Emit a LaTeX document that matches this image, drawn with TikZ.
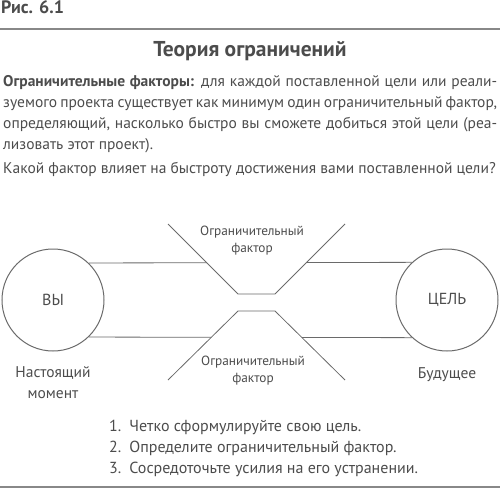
\documentclass[tikz,border=0pt]{standalone}
\usepackage{fontspec}
\setmainfont{PT Sans}
\usepackage{xcolor}
\definecolor{inkgray}{HTML}{4C4C4C}
\definecolor{linegray}{HTML}{6A6A6A}

\begin{document}
\begin{tikzpicture}[x=1pt, y=-1pt,
  every node/.style={text=inkgray, inner sep=0pt},
  body/.style={font=\fontsize{15.5}{21}\selectfont},
  small/.style={font=\fontsize{13.3}{16.5}\selectfont, align=center},
  wall/.style={draw=linegray, line width=0.8pt},
  ring/.style={circle, draw=linegray, line width=1pt, minimum size=102pt, font=\fontsize{16}{17}\selectfont},
  rule/.style={draw=linegray!80, line width=2pt}]
\useasboundingbox (0,0) rectangle (500,489);

% heading
\node[anchor=base west, font=\fontsize{18}{20}\selectfont\bfseries] (fig) at (1,14) {Рис. 6.1};
\coordinate (topL) at (0,29);
\coordinate (topR) at (500,29);
\draw[rule] (topL) -- (topR);
\node[anchor=base, font=\fontsize{21.5}{25}\selectfont\bfseries] (title) at (250,57) {Теория ограничений};

% text
\node[body, anchor=base west, text width=494pt, align=justify] (intro) at (3,87)
  {\textbf{Ограничительные факторы:} для каждой поставленной цели или реали-\linebreak
   зуемого проекта существует как минимум один ограничительный фактор,\linebreak
   определяющий, насколько быстро вы сможете добиться этой цели (реа-\linebreak
   лизовать этот проект).};
\node[body, anchor=base west] (question) at (3,173)
  {Какой фактор влияет на быстроту достижения вами поставленной цели?};

% diagram
\node[ring] (you) at (53,300) {ВЫ};
\node[ring] (goal) at (447,300) {ЦЕЛЬ};
\node[body, align=center, anchor=base] (now) at (53,398) {Настоящий\\момент};
\node[body, anchor=base] (future) at (447,378) {Будущее};

\coordinate (ulTop) at (168,224);
\coordinate (ulNeck) at (238,294);
\coordinate (urNeck) at (275,294);
\coordinate (urTop) at (345,224);
\coordinate (llBot) at (168,380);
\coordinate (llNeck) at (238,311);
\coordinate (lrNeck) at (275,311);
\coordinate (lrBot) at (345,380);
\draw[wall] (ulTop) -- (ulNeck) -- (urNeck) -- (urTop);
\draw[wall] (llBot) -- (llNeck) -- (lrNeck) -- (lrBot);

\coordinate (ulMeet) at (intersection of ulTop--ulNeck and you.46.5--goal.133.5);
\coordinate (urMeet) at (intersection of urTop--urNeck and you.46.5--goal.133.5);
\coordinate (llMeet) at (intersection of llBot--llNeck and you.-46.5--goal.-133.5);
\coordinate (lrMeet) at (intersection of lrBot--lrNeck and you.-46.5--goal.-133.5);
\draw[wall] (you.46.5) -- (ulMeet);
\draw[wall] (urMeet) -- (goal.133.5);
\draw[wall] (you.-46.5) -- (llMeet);
\draw[wall] (lrMeet) -- (goal.-133.5);

\node[small, anchor=base] (upperLabel) at (252,252) {Ограничительный\\фактор};
\node[small, anchor=base] (lowerLabel) at (253,382) {Ограничительный\\фактор};

% steps
\node[font=\fontsize{16}{21}\selectfont, anchor=base west] (steps) at (109,431)
  {\begin{tabular}[t]{@{}r@{\hspace{8pt}}l@{}}
   1. & Четко сформулируйте свою цель.\\
   2. & Определите ограничительный фактор.\\
   3. & Сосредоточьте усилия на его устранении.
   \end{tabular}};
\coordinate (botL) at (0,487);
\coordinate (botR) at (500,487);
\draw[rule] (botL) -- (botR);
\end{tikzpicture}
\end{document}
